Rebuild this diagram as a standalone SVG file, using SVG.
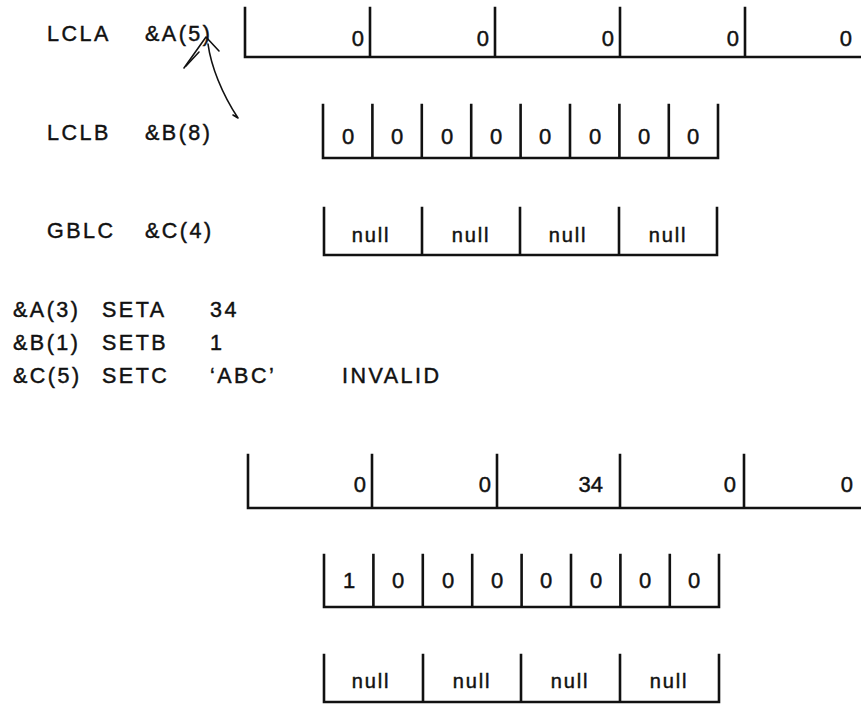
<svg xmlns="http://www.w3.org/2000/svg" width="861" height="705" viewBox="0 0 861 705">
  <style>
    text { font-family: "Liberation Sans", Arial, sans-serif; fill: #111; stroke: #111; stroke-width: 0.45; }
    .lbl { font-size: 21.5px; letter-spacing: 2.5px; }
    .val { font-size: 22px; }
    .nul { font-size: 20px; letter-spacing: 1.8px; text-anchor: middle; }
    .mid { text-anchor: middle; }
    .end { text-anchor: end; }
    .cell { fill: none; stroke: #111; stroke-width: 2.6; stroke-linecap: square; }
    .pen { fill: none; stroke: #111; stroke-width: 1.6; stroke-linecap: round; stroke-linejoin: round; }
  </style>

  <!-- declarations -->
  <g id="decl-lcla">
    <text class="lbl" x="47" y="41">LCLA</text>
    <text class="lbl" x="145" y="41">&amp;A(5)</text>
  </g>
  <g id="decl-lclb">
    <text class="lbl" x="47" y="140">LCLB</text>
    <text class="lbl" x="145" y="140">&amp;B(8)</text>
  </g>
  <g id="decl-gblc">
    <text class="lbl" x="47" y="238">GBLC</text>
    <text class="lbl" x="145" y="238">&amp;C(4)</text>
  </g>

  <!-- arithmetic array &A, initial -->
  <g id="array-a1">
    <path class="cell" d="M245,8 V57 H870 M370,8 V57 M495,8 V57 M620,8 V57 M745,8 V57"/>
    <text class="val end" x="364" y="46">0</text>
    <text class="val end" x="489" y="46">0</text>
    <text class="val end" x="614" y="46">0</text>
    <text class="val end" x="739" y="46">0</text>
    <text class="val end" x="852" y="46">0</text>
  </g>

  <!-- binary array &B, initial -->
  <g id="array-b1">
    <path class="cell" d="M323,105 V158 H718 V105 M372.4,105 V158 M421.8,105 V158 M471.2,105 V158 M520.6,105 V158 M570,105 V158 M619.4,105 V158 M668.8,105 V158"/>
    <text class="val mid" x="348" y="144">0</text>
    <text class="val mid" x="397" y="144">0</text>
    <text class="val mid" x="447" y="144">0</text>
    <text class="val mid" x="496" y="144">0</text>
    <text class="val mid" x="545" y="144">0</text>
    <text class="val mid" x="595" y="144">0</text>
    <text class="val mid" x="644" y="144">0</text>
    <text class="val mid" x="693" y="144">0</text>
  </g>

  <!-- character array &C, initial -->
  <g id="array-c1">
    <path class="cell" d="M324,208 V255 H717 V208 M422,208 V255 M520,208 V255 M619,208 V255"/>
    <text class="nul" x="371" y="242">null</text>
    <text class="nul" x="471" y="242">null</text>
    <text class="nul" x="568" y="242">null</text>
    <text class="nul" x="668" y="242">null</text>
  </g>

  <!-- assignment statements -->
  <g id="stmt-seta">
    <text class="lbl" x="13" y="317">&amp;A(3)</text>
    <text class="lbl" x="102" y="317">SETA</text>
    <text class="lbl" x="210" y="317">34</text>
  </g>
  <g id="stmt-setb">
    <text class="lbl" x="13" y="350">&amp;B(1)</text>
    <text class="lbl" x="102" y="350">SETB</text>
    <text class="lbl" x="210" y="350">1</text>
  </g>
  <g id="stmt-setc">
    <text class="lbl" x="13" y="383">&amp;C(5)</text>
    <text class="lbl" x="102" y="383">SETC</text>
    <text class="lbl" x="210" y="383">‘ABC’</text>
    <text class="lbl" x="342" y="383" letter-spacing="3">INVALID</text>
  </g>

  <!-- arithmetic array &A, after SETA -->
  <g id="array-a2">
    <path class="cell" d="M248,455 V508 H870 M372,455 V508 M497,455 V508 M620,455 V508 M744,455 V508"/>
    <text class="val end" x="366" y="492">0</text>
    <text class="val end" x="491" y="492">0</text>
    <text class="val end" x="603" y="492">34</text>
    <text class="val end" x="736" y="492">0</text>
    <text class="val end" x="853" y="492">0</text>
  </g>

  <!-- binary array &B, after SETB -->
  <g id="array-b2">
    <path class="cell" d="M324,555 V607 H719 V555 M373.4,555 V607 M422.8,555 V607 M472.2,555 V607 M521.6,555 V607 M571,555 V607 M620.4,555 V607 M669.8,555 V607"/>
    <text class="val mid" x="349" y="588">1</text>
    <text class="val mid" x="398" y="588">0</text>
    <text class="val mid" x="448" y="588">0</text>
    <text class="val mid" x="497" y="588">0</text>
    <text class="val mid" x="546" y="588">0</text>
    <text class="val mid" x="596" y="588">0</text>
    <text class="val mid" x="645" y="588">0</text>
    <text class="val mid" x="694" y="588">0</text>
  </g>

  <!-- character array &C, unchanged -->
  <g id="array-c2">
    <path class="cell" d="M324,655 V702 H719 V655 M423,655 V702 M521,655 V702 M620,655 V702"/>
    <text class="nul" x="371" y="688">null</text>
    <text class="nul" x="472" y="688">null</text>
    <text class="nul" x="570" y="688">null</text>
    <text class="nul" x="669" y="688">null</text>
  </g>

  <!-- hand-drawn pointer at the dimension of &A -->
  <g id="connectors">
    <path class="pen" d="M208,44 C211,66 222,94 238,118 L233,115"/>
    <path class="pen" d="M184,68 L206,37 L219,51" stroke-width="2"/>
    <path class="pen" d="M186,66 L199,52" stroke-width="3.2"/>
  </g>
</svg>
